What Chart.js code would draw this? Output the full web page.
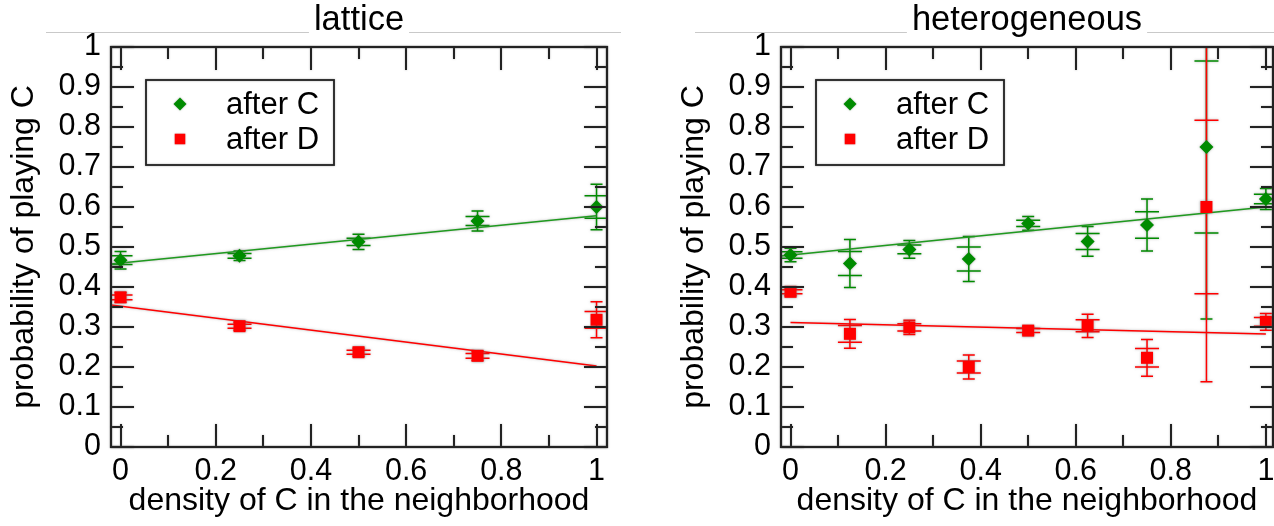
<!DOCTYPE html>
<html>
<head>
<meta charset="utf-8">
<script src="https://cdn.jsdelivr.net/npm/chart.js@4.4.0/dist/chart.umd.min.js"></script>
<style>
html,body{margin:0;padding:0;background:#fff;overflow:hidden;width:1274px;height:526px;}
canvas{position:absolute;top:0;}
#c1{left:0;}
#c2{left:670px;}
</style>
</head>
<body>
<canvas id="c1" width="640" height="526"></canvas>
<canvas id="c2" width="615" height="526"></canvas>
<script>
// ---------- data ----------
const latticeX = [0, 0.25, 0.5, 0.75, 1];
const latticeAfterC = [0.467, 0.478, 0.513, 0.565, 0.600];
const latticeAfterCErr = [0.011, 0.006, 0.009, 0.011, 0.028];
const latticeAfterCErr2 = [0.022, 0.012, 0.019, 0.025, 0.057];
const latticeAfterD = [0.374, 0.302, 0.237, 0.228, 0.318];
const latticeAfterDErr = [0.006, 0.005, 0.005, 0.006, 0.021];
const latticeAfterDErr2 = [0.012, 0.010, 0.010, 0.012, 0.045];
const latticeFitCX = [-0.02, 1];
const latticeFitC = [0.4575, 0.578];
const latticeFitDX = [-0.02, 1];
const latticeFitD = [0.355, 0.2025];

const heteroX = [0, 0.125, 0.25, 0.375, 0.5, 0.625, 0.75, 0.875, 1];
const heteroAfterC = [0.480, 0.459, 0.494, 0.470, 0.559, 0.514, 0.555, 0.750, 0.620];
const heteroAfterCErr = [0.008, 0.030, 0.011, 0.030, 0.008, 0.020, 0.033, 0.215, 0.012];
const heteroAfterCErr2 = [0.017, 0.060, 0.022, 0.056, 0.017, 0.037, 0.065, 0.430, 0.026];
const heteroAfterD = [0.388, 0.283, 0.299, 0.200, 0.291, 0.303, 0.223, 0.600, 0.313];
const heteroAfterDErr = [0.005, 0.021, 0.009, 0.015, 0.005, 0.015, 0.023, 0.217, 0.011];
const heteroAfterDErr2 = [0.010, 0.036, 0.018, 0.030, 0.010, 0.029, 0.046, 0.437, 0.021];
const heteroFitCX = [-0.02, 1];
const heteroFitC = [0.4775, 0.600];
const heteroFitDX = [0, 1];
const heteroFitD = [0.311, 0.2825];

const xTickValues = [0, 0.2, 0.4, 0.6, 0.8, 1];
const xTickLabels = ['0', '0.2', '0.4', '0.6', '0.8', '1'];
const xMinorTicks = [0.1, 0.3, 0.5, 0.7, 0.9];
const yTickValues = [0, 0.1, 0.2, 0.3, 0.4, 0.5, 0.6, 0.7, 0.8, 0.9, 1];
const yTickLabels = ['0', '0.1', '0.2', '0.3', '0.4', '0.5', '0.6', '0.7', '0.8', '0.9', '1'];
const yMinorTicks = [0.05, 0.15, 0.25, 0.35, 0.45, 0.55, 0.65, 0.75, 0.85, 0.95];

const seriesNames = ['after C', 'after D'];
const xTitle = 'density of C in the neighborhood';
const yTitle = 'probability of playing C';

// ---------- styling ----------
const GREEN = '#008b00';
const GREEN_LINE = '#1f9a1f';
const RED = '#ff0000';
const HALO = 'rgba(110,110,110,0.55)';
const FONT = '"Liberation Sans", Arial, Helvetica, sans-serif';
Chart.defaults.font.family = FONT;
Chart.defaults.color = '#000';

const pts = (xs, ys) => xs.map((x, i) => ({x: x, y: ys[i]}));

// gray rule behind the panel title
const titleLinePlugin = {
  id: 'titleLine',
  beforeDraw(chart, args, opts) {
    const ctx = chart.ctx, t = chart.titleBlock, ca = chart.chartArea;
    ctx.save();
    ctx.font = Chart.helpers.toFont(t.options.font).string;
    const w = ctx.measureText(t.options.text).width;
    const cx = (t.left + t.right) / 2;
    ctx.strokeStyle = '#c9c9c9';
    ctx.lineWidth = 1;
    ctx.beginPath();
    ctx.moveTo(ca.left + opts.from, opts.y);
    ctx.lineTo(cx - w / 2 - opts.gap, opts.y);
    ctx.moveTo(cx + w / 2 + opts.gap, opts.y);
    ctx.lineTo(ca.right + opts.to, opts.y);
    ctx.stroke();
    ctx.restore();
  }
};

// soft gray halo around the plotted marks (as in the reference)
const haloPlugin = {
  id: 'halo',
  beforeDatasetsDraw(chart) {
    const ctx = chart.ctx;
    ctx.save();
    ctx.shadowColor = HALO;
    ctx.shadowBlur = 2.5;
  },
  afterDatasetsDraw(chart) {
    chart.ctx.restore();
  }
};

// error bars: inner (wide caps) and outer (narrow caps)
const errorBarPlugin = {
  id: 'errorBars',
  beforeDatasetsDraw(chart) {
    const {ctx, chartArea: ca, scales: {x, y}} = chart;
    ctx.save();
    ctx.beginPath();
    ctx.rect(ca.left, ca.top, ca.right - ca.left, ca.bottom - ca.top);
    ctx.clip();
    chart.data.datasets.forEach(ds => {
      if (!ds.errInner) return;
      ctx.strokeStyle = ds.borderColor;
      ctx.lineWidth = 1.5;
      ds.data.forEach((p, i) => {
        const px = x.getPixelForValue(p.x);
        const e1 = ds.errInner[i], e2 = ds.errOuter[i];
        const yT2 = y.getPixelForValue(p.y + e2), yB2 = y.getPixelForValue(p.y - e2);
        const yT1 = y.getPixelForValue(p.y + e1), yB1 = y.getPixelForValue(p.y - e1);
        ctx.beginPath();
        ctx.moveTo(px, yT2); ctx.lineTo(px, yB2);
        ctx.moveTo(px - 12, yT1); ctx.lineTo(px + 12, yT1);
        ctx.moveTo(px - 12, yB1); ctx.lineTo(px + 12, yB1);
        ctx.moveTo(px - 6, yT2); ctx.lineTo(px + 6, yT2);
        ctx.moveTo(px - 6, yB2); ctx.lineTo(px + 6, yB2);
        ctx.stroke();
      });
    });
    ctx.restore();
  }
};

// frame with inward major/minor ticks on all sides
const framePlugin = {
  id: 'frame',
  afterDatasetsDraw(chart) {
    const {ctx, chartArea: {left, right, top, bottom}, scales: {x, y}} = chart;
    const MAJ = 23, MIN = 12;
    ctx.save();
    ctx.shadowColor = HALO;
    ctx.shadowBlur = 2;
    ctx.strokeStyle = '#222';
    ctx.lineWidth = 2;
    ctx.beginPath();
    const xt = (v, len) => {
      const px = Math.round(x.getPixelForValue(v));
      ctx.moveTo(px, bottom); ctx.lineTo(px, bottom - len);
      ctx.moveTo(px, top); ctx.lineTo(px, top + len);
    };
    const yt = (v, len) => {
      const py = Math.round(y.getPixelForValue(v));
      ctx.moveTo(left, py); ctx.lineTo(left + len, py);
      ctx.moveTo(right, py); ctx.lineTo(right - len, py);
    };
    xTickValues.forEach(v => xt(v, MAJ));
    xMinorTicks.forEach(v => xt(v, MIN));
    yTickValues.forEach(v => yt(v, MAJ));
    yMinorTicks.forEach(v => yt(v, MIN));
    ctx.stroke();
    ctx.lineWidth = 2.2;
    ctx.strokeRect(left, top, right - left, bottom - top);
    ctx.restore();
  }
};

// boxed legend inside the plot area
const boxLegendPlugin = {
  id: 'boxLegend',
  afterDatasetsDraw(chart) {
    const {ctx, chartArea: ca} = chart;
    const bx = ca.left + 35, by = ca.top + 33, bw = 188, bh = 85;
    ctx.save();
    ctx.fillStyle = '#fff';
    ctx.fillRect(bx, by, bw, bh);
    ctx.shadowColor = HALO;
    ctx.shadowBlur = 2;
    ctx.strokeStyle = '#222';
    ctx.lineWidth = 1.8;
    ctx.strokeRect(bx, by, bw, bh);
    const items = chart.data.datasets.filter(d => d.inLegend);
    items.forEach((ds, i) => {
      const my = by + 24 + i * 35;
      ctx.fillStyle = ds.backgroundColor;
      ctx.strokeStyle = ds.backgroundColor;
      Chart.helpers.drawPoint(ctx, {pointStyle: ds.pointStyle, radius: ds.legendRadius, rotation: 0, borderWidth: 0}, bx + 34, my);
      ctx.shadowBlur = 0;
      ctx.fillStyle = '#000';
      ctx.font = '31px ' + FONT;
      ctx.textBaseline = 'middle';
      ctx.textAlign = 'left';
      ctx.fillText(ds.label, bx + 80, my + 1);
      ctx.shadowBlur = 2;
    });
    ctx.restore();
  }
};

function makeChart(id, cfg) {
  const datasets = [
    {type: 'scatter', label: seriesNames[0], data: pts(cfg.x, cfg.c), errInner: cfg.cErr, errOuter: cfg.cErr2,
     inLegend: true, legendRadius: 6.5, pointStyle: 'rectRot', pointRadius: 7, borderWidth: 0,
     backgroundColor: GREEN, borderColor: GREEN, showLine: false},
    {type: 'scatter', label: seriesNames[1], data: pts(cfg.x, cfg.d), errInner: cfg.dErr, errOuter: cfg.dErr2,
     inLegend: true, legendRadius: 7.5, pointStyle: 'rect', pointRadius: 8.5, borderWidth: 0,
     backgroundColor: RED, borderColor: RED, showLine: false},
    {type: 'line', label: 'fit C', data: pts(cfg.fitCX, cfg.fitC), borderColor: GREEN_LINE, borderWidth: 1.5,
     pointRadius: 0, fill: false, tension: 0},
    {type: 'line', label: 'fit D', data: pts(cfg.fitDX, cfg.fitD), borderColor: RED, borderWidth: 1.5,
     pointRadius: 0, fill: false, tension: 0}
  ];
  return new Chart(document.getElementById(id), {
    type: 'scatter',
    data: {datasets},
    plugins: [titleLinePlugin, haloPlugin, errorBarPlugin, framePlugin, boxLegendPlugin],
    options: {
      responsive: false,
      animation: false,
      events: [],
      layout: {padding: {left: 0, right: cfg.padRight, top: 0, bottom: 0}},
      plugins: {
        legend: {display: false},
        tooltip: {enabled: false},
        title: {display: true, text: cfg.title, fullSize: false, color: '#000',
                font: {size: 34.5, weight: 'normal', family: FONT}, padding: {top: 0, bottom: 5.6}},
        titleLine: {y: 32.5, gap: 5, from: cfg.lineFrom, to: cfg.lineTo}
      },
      scales: {
        x: {
          type: 'linear', min: -0.02, max: cfg.xMax,
          afterBuildTicks: s => { s.ticks = xTickValues.map(v => ({value: v})); },
          afterFit: s => { s.height = 79; },
          ticks: {callback: (v, i) => xTickLabels[i], font: {size: 30.5}, color: '#000', padding: 6,
                  maxRotation: 0, autoSkip: false, includeBounds: false},
          grid: {display: false, drawTicks: false},
          border: {display: false},
          title: {display: true, text: xTitle, color: '#000', font: {size: 32}, padding: {top: 0, bottom: 6}}
        },
        y: {
          type: 'linear', min: 0, max: 1,
          afterBuildTicks: s => { s.ticks = yTickValues.map(v => ({value: v})); },
          afterFit: s => { s.width = 111; },
          ticks: {callback: (v, i) => yTickLabels[i], font: {size: 30.5}, color: '#000', padding: 10, autoSkip: false},
          grid: {display: false, drawTicks: false},
          border: {display: false},
          title: {display: true, text: yTitle, color: '#000', font: {size: 32}, padding: {top: 5, bottom: 0}}
        }
      }
    }
  });
}

makeChart('c1', {
  title: 'lattice', x: latticeX, c: latticeAfterC, cErr: latticeAfterCErr, cErr2: latticeAfterCErr2,
  d: latticeAfterD, dErr: latticeAfterDErr, dErr2: latticeAfterDErr2,
  fitCX: latticeFitCX, fitC: latticeFitC, fitDX: latticeFitDX, fitD: latticeFitD,
  xMax: 1.022, padRight: 33, lineFrom: -65, lineTo: 14
});
makeChart('c2', {
  title: 'heterogeneous', x: heteroX, c: heteroAfterC, cErr: heteroAfterCErr, cErr2: heteroAfterCErr2,
  d: heteroAfterD, dErr: heteroAfterDErr, dErr2: heteroAfterDErr2,
  fitCX: heteroFitCX, fitC: heteroFitC, fitDX: heteroFitDX, fitD: heteroFitD,
  xMax: 1.015, padRight: 12, lineFrom: -86, lineTo: 20
});
</script>
</body>
</html>
